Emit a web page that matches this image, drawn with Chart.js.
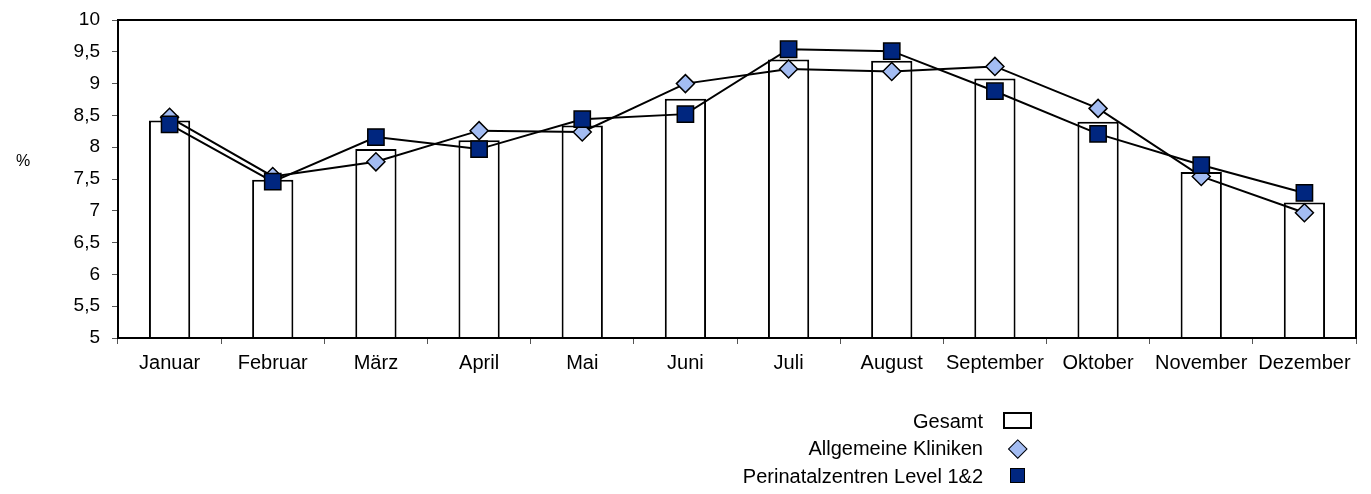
<!DOCTYPE html>
<html>
<head>
<meta charset="utf-8">
<script src="https://cdn.jsdelivr.net/npm/chart.js@4"></script>
<style>
  body { margin: 0; background: #fff; }
  #wrap { position: relative; width: 1371px; height: 494px; font-family: Arial, "Liberation Sans", sans-serif; }
  #pct { position: absolute; left: 16px; top: 152px; font-size: 16px; }
  .leg { position: absolute; right: 388px; font-size: 20px; line-height: 22px; white-space: nowrap; }
  .mk { position: absolute; box-sizing: border-box; }
</style>
</head>
<body>
<div id="wrap">
  <canvas id="chart" width="1371" height="494"></canvas>
  <div id="pct">%</div>
  <div class="leg" style="top:410px">Gesamt</div>
  <div class="leg" style="top:437px">Allgemeine Kliniken</div>
  <div class="leg" style="top:465px">Perinatalzentren Level 1&amp;2</div>
  <div class="mk" style="left:1003px;top:412px;width:29px;height:17px;border:2px solid #000;background:#fff"></div>
  <div class="mk" style="left:1010.5px;top:441.5px;width:13.5px;height:13.5px;border:1.5px solid #000;background:#a3bcf2;transform:rotate(45deg)"></div>
  <div class="mk" style="left:1010px;top:468px;width:15px;height:15px;border:1.5px solid #000;background:#00267f"></div>
</div>
<script>
// Daten
const monate = ['Januar', 'Februar', 'März', 'April', 'Mai', 'Juni', 'Juli', 'August', 'September', 'Oktober', 'November', 'Dezember'];
const gesamt = [8.42, 7.49, 7.97, 8.11, 8.34, 8.76, 9.38, 9.36, 9.08, 8.40, 7.61, 7.13];
const allgemein = [8.47, 7.54, 7.77, 8.26, 8.24, 9.00, 9.23, 9.19, 9.27, 8.61, 7.54, 6.97];
const perinatal = [8.36, 7.46, 8.16, 7.97, 8.44, 8.52, 9.54, 9.51, 8.88, 8.21, 7.72, 7.28];
const yTicks = [5, 5.5, 6, 6.5, 7, 7.5, 8, 8.5, 9, 9.5, 10];

const fontX = { family: 'Arial, "Liberation Sans", sans-serif', size: 20 };
const fontY = { family: 'Arial, "Liberation Sans", sans-serif', size: 19 };

// Rahmen um die Plotfläche
const frame = {
    id: 'frame',
    afterDatasetsDraw(chart) {
        const a = chart.chartArea;
        const ctx = chart.ctx;
        ctx.save();
        ctx.strokeStyle = '#000';
        ctx.lineWidth = 2;
        ctx.strokeRect(a.left, a.top, a.right - a.left, a.bottom - a.top);
        ctx.restore();
    }
};

new Chart(document.getElementById('chart'), {
    data: {
        labels: monate,
        datasets: [
            {
                type: 'bar',
                label: 'Gesamt',
                data: gesamt,
                backgroundColor: '#fff',
                borderColor: '#000',
                borderWidth: 2,
                categoryPercentage: 1,
                barPercentage: 0.4,
                order: 3
            },
            {
                type: 'line',
                label: 'Allgemeine Kliniken',
                data: allgemein,
                borderColor: '#000',
                borderWidth: 2,
                tension: 0,
                pointStyle: 'rectRot',
                pointRadius: 9,
                pointBackgroundColor: '#a3bcf2',
                pointBorderColor: '#000',
                pointBorderWidth: 1.5,
                order: 2
            },
            {
                type: 'line',
                label: 'Perinatalzentren Level 1&2',
                data: perinatal,
                borderColor: '#000',
                borderWidth: 2,
                tension: 0,
                pointStyle: 'rect',
                pointRadius: 11.5,
                pointBackgroundColor: '#00267f',
                pointBorderColor: '#000',
                pointBorderWidth: 1.5,
                order: 1
            }
        ]
    },
    options: {
        responsive: false,
        animation: false,
        layout: { padding: { left: 0, top: 20, right: 15, bottom: 0 } },
        plugins: {
            legend: { display: false },
            tooltip: { enabled: false }
        },
        scales: {
            x: {
                afterFit: (s) => { s.height = 156; },
                border: { display: false },
                grid: { drawOnChartArea: false, drawTicks: true, tickLength: 6, color: '#555', offset: true },
                ticks: { color: '#000', font: fontX, padding: 7, maxRotation: 0, autoSkip: false }
            },
            y: {
                min: 5,
                max: 10,
                afterFit: (s) => { s.width = 118; s.paddingTop = 0; s.paddingBottom = 0; },
                afterBuildTicks: (s) => { s.ticks = yTicks.map(v => ({ value: v })); },
                border: { display: false },
                grid: { drawOnChartArea: false, drawTicks: true, tickLength: 6, color: '#555' },
                ticks: {
                    color: '#000',
                    font: fontY,
                    padding: 12,
                    callback: (v) => String(v).replace('.', ',')
                }
            }
        }
    },
    plugins: [frame]
});
</script>
</body>
</html>
